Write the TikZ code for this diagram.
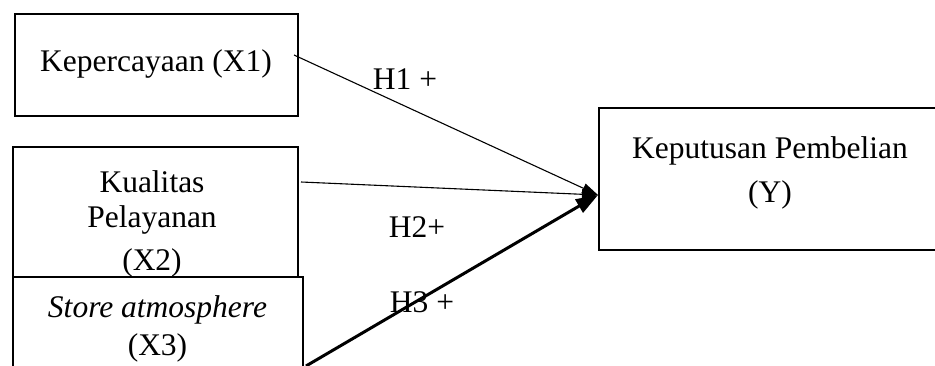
\documentclass[tikz,border=0pt]{standalone}
\usepackage{fontspec}
\setmainfont{Liberation Serif}
\usetikzlibrary{arrows.meta}
\begin{document}
\begin{tikzpicture}[x=1pt,y=1pt,
  varbox/.style={draw=black,line width=2pt,rectangle,inner sep=0pt},
  lbl/.style={font=\fontsize{31.5}{40}\selectfont,inner sep=0pt,anchor=base},
  thinarr/.style={line width=1.1pt,-{Triangle[length=16pt,width=10pt]}},
  thickarr/.style={line width=3pt,-{Triangle[length=22pt,width=15pt]}}]
\clip (0,0) rectangle (935,365);
\fill[white] (0,0) rectangle (935,365);
% boxes
\node[varbox,minimum width=283pt,minimum height=102pt] (x1) at (156.5,300) {};
\node[varbox,minimum width=285pt,minimum height=130pt] (x2) at (155.5,153) {};
\node[varbox,minimum width=290pt,minimum height=120pt] (x3) at (158,28) {};
\node[varbox,minimum width=341pt,minimum height=142pt] (y) at (769.5,186) {};
% texts
\node[lbl] (tx1) at (156,293) {Kepercayaan (X1)};
\node[lbl] (tx2a) at (152,173) {Kualitas};
\node[lbl] (tx2b) at (152,138) {Pelayanan};
\node[lbl] (tx2c) at (152,95) {(X2)};
\node[lbl] (tx3a) at (157.5,48) {\itshape Store atmosphere};
\node[lbl] (tx3b) at (157.5,10) {(X3)};
\node[lbl] (tya) at (770,207) {Keputusan Pembelian};
\node[lbl] (tyb) at (770,163) {(Y)};
% connector ends
\coordinate (tip) at ([yshift=-16pt]y.west);
\coordinate (s1) at ([xshift=-5pt,yshift=10pt]x1.east);
\coordinate (s2) at ([xshift=2pt,yshift=30pt]x2.east);
\coordinate (s3) at (306,-1);
% connectors
\draw[thinarr] (s1) -- (tip);
\draw[thinarr] (s2) -- (tip);
\draw[thickarr] (s3) -- (tip);
% labels
\node[lbl] (h1) at (405,276) {H1 +};
\node[lbl] (h2) at (417,128) {H2+};
\node[lbl] (h3) at (422,53) {H3 +};
\end{tikzpicture}
\end{document}
